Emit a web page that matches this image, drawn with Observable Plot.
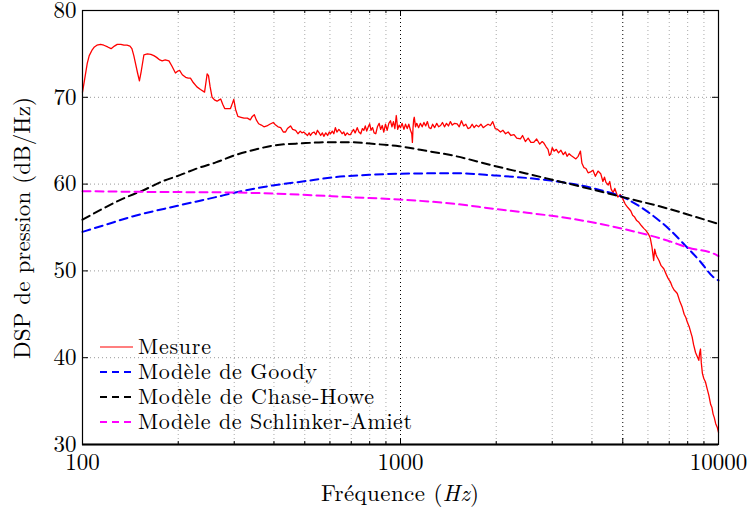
<!DOCTYPE html>
<html>
<head>
<meta charset="utf-8">
<script src="https://cdn.jsdelivr.net/npm/d3@7"></script>
<script src="https://cdn.jsdelivr.net/npm/@observablehq/plot@0.6"></script>
<style>
  html, body { margin: 0; padding: 0; background: #fff; }
  svg { display: block; }
</style>
</head>
<body>
<div id="chart"></div>
<script>
// ---- Data ----
const xTicks = [100, 1000, 5000, 10000];
const xMinor = [200, 300, 400, 500, 600, 700, 800, 900, 2000, 3000, 4000, 6000, 7000, 8000, 9000];
const xMajorGrid = [1000, 5000];
const yTicks = [30, 40, 50, 60, 70, 80];
const yGrid = [40, 50, 60, 70];

const seriesNames = ["Mesure", "Modèle de Goody", "Modèle de Chase-Howe", "Modèle de Schlinker-Amiet"];
const seriesColors = ["#ff0000", "#0000ff", "#000000", "#ff00ff"];

// Mesure: [frequency Hz, dB/Hz]
const mesure = [
[100,70.6],[102,72.5],[103.5,73.9],[105,74.8],[107,75.4],[109,75.8],[111,76.0],[114,76.1],[116.7,76.0],[120,75.8],
[123,75.6],[126,75.9],[128.6,76.1],[132,76.1],[135,76.0],[138,76.0],[141,75.9],[143,75.6],[145,74.8],[147,73.8],
[149,72.8],[151,71.9],[153,73.0],[156,74.9],[160,75.0],[164,74.95],[167.6,74.8],[171,74.6],[175,74.3],[178,74.2],
[182,74.3],[187,74.2],[191,73.6],[196,72.8],[199,73.0],[202,73.1],[206,72.6],[211,72.3],[215,72.2],[218.5,72.2],
[223,71.7],[229,71.2],[235,70.9],[242,70.6],[244,71.5],[246.6,72.7],[249,72.5],[252,71.2],[255.6,70.0],[260,69.7],
[265,69.55],[269,69.7],[272,69.8],[276,69.2],[280,68.7],[286,68.7],[292,68.7],[296,69.3],[299,69.75],[303,68.6],
[308,67.8],[315,67.7],[322,67.6],[330,67.6],[337,67.4],[342,67.8],[347,68.0],[352,67.4],[358,66.95],[365,66.8],
[372,66.6],[380,66.7],[388,66.9],[398,67.1],[405,66.8],[412,66.6],[420,66.5],[428,66.0],[435,66.0],[441,66.4],
[451,66.7],[458,66.3],[468,66.2],[476,65.8],[484,66.1],[490,65.9],[496,66.0],[503,65.8],[510,65.6],[516,65.9],
[521,65.6],[528,65.9],[535,66.0],[542,65.7],[548,66.2],[555,65.9],[561,65.6],[568,65.9],[574,65.5],[582,65.9],
[590,65.6],[597,66.0],[603,65.8],[610,66.1],[617,65.8],[624,66.5],[631,66.0],[640,66.3],[647,66.1],[655,65.8],
[663,66.0],[670,65.6],[680,65.9],[688,65.7],[696,65.7],[703,66.0],[712,66.3],[720,65.9],[731,66.5],[740,66.0],
[750,65.8],[759,66.4],[767,66.2],[775,66.7],[783,66.1],[792,66.6],[800,66.95],[808,66.2],[817,66.5],[826,65.9],
[836,65.8],[846,66.6],[857,67.0],[866,66.3],[876,66.75],[886,66.0],[897,66.9],[908,66.2],[919,67.0],[930,67.3],
[940,66.6],[950,67.2],[960,66.4],[970,67.9],[980,66.3],[990,66.8],[1000,66.5],[1012,67.0],[1025,66.3],[1037,66.9],
[1050,66.4],[1062,66.9],[1075,66.2],[1085,65.8],[1090,64.8],[1095,66.5],[1100,67.4],[1105,67.7],[1115,66.6],[1125,67.0],
[1140,66.5],[1155,67.0],[1170,66.6],[1185,67.1],[1200,66.7],[1215,67.2],[1230,66.5],[1247,66.4],[1262,66.9],[1280,66.5],
[1300,67.0],[1318,66.6],[1337,66.75],[1355,67.1],[1375,66.6],[1395,67.0],[1415,66.7],[1435,67.2],[1455,66.8],[1480,67.0],
[1507,66.95],[1530,66.6],[1555,67.3],[1580,66.7],[1605,66.9],[1630,66.4],[1656,66.5],[1680,66.9],[1705,66.5],[1730,66.8],
[1760,66.6],[1790,66.9],[1820,66.5],[1850,66.7],[1885,66.9],[1917,66.75],[1950,67.2],[1985,66.4],[2020,66.3],[2063,66.0],
[2100,66.2],[2140,65.8],[2180,66.0],[2225,65.6],[2275,65.7],[2320,65.3],[2383,65.2],[2420,65.6],[2470,64.9],[2520,65.3],
[2570,64.8],[2624,64.8],[2680,65.2],[2740,64.6],[2790,64.9],[2827,64.7],[2870,64.3],[2910,64.0],[2940,63.3],[2970,63.5],
[3000,64.2],[3040,63.8],[3090,64.0],[3140,63.6],[3195,63.9],[3250,63.4],[3300,63.7],[3340,63.2],[3390,63.5],[3438,63.3],
[3500,63.1],[3560,62.9],[3620,63.2],[3680,63.8],[3720,62.4],[3773,61.9],[3830,61.8],[3890,61.3],[3960,61.4],[4030,61.6],
[4100,60.9],[4180,61.5],[4262,61.2],[4330,60.3],[4380,60.8],[4427,60.2],[4500,59.9],[4550,60.3],[4594,59.45],[4660,59.0],
[4720,59.5],[4825,58.5],[4910,58.8],[5000,58.3],[5090,57.7],[5187,57.3],[5300,56.9],[5370,56.4],[5449,56.2],[5530,55.8],
[5620,55.6],[5726,55.2],[5820,54.9],[5900,54.7],[6010,54.3],[6100,53.8],[6180,52.7],[6254,51.2],[6300,52.5],[6360,51.9],
[6411,51.6],[6500,51.2],[6600,50.6],[6730,50.25],[6850,49.6],[6950,49.1],[7065,48.7],[7150,48.2],[7250,47.8],[7340,47.6],
[7420,47.4],[7540,46.6],[7690,45.8],[7800,45.0],[7900,44.6],[7976,44.1],[8100,43.5],[8200,42.8],[8262,42.4],[8350,41.5],
[8468,40.6],[8560,40.2],[8671,39.7],[8720,40.5],[8777,41.0],[8830,39.4],[8900,38.2],[8990,37.6],[9100,37.2],[9200,36.5],
[9326,35.65],[9450,34.6],[9530,34.3],[9617,33.5],[9700,33.1],[9800,32.4],[9908,32.0],[10000,31.4]
];

const goody = [
[100,54.5],[115.6,55.2],[143.6,56.27],[199,57.5],[262.6,58.5],[300,59.0],[396,59.84],[492,60.3],[624,60.8],[798,61.07],
[1000,61.2],[1500,61.25],[1970,61.0],[2970,60.4],[3500,60.0],[4260,59.3],[5000,58.5],[6100,56.6],[7000,54.8],[7780,53.1],
[8800,51.0],[9620,49.3],[10000,48.9]
];

const chaseHowe = [
[100,55.9],[115.6,57.15],[133.6,58.3],[154.4,59.25],[180.7,60.4],[201.5,61.0],[227,61.75],[262.6,62.5],[300,63.3],[350,63.99],
[400,64.45],[492,64.7],[598,64.83],[690,64.83],[815,64.64],[990,64.37],[1155,63.95],[1500,63.2],[1970,62.1],[2500,61.2],
[3000,60.5],[3600,59.8],[4200,59.2],[5000,58.5],[6900,57.2],[8000,56.5],[10000,55.4]
];

const schlinkerAmiet = [
[100,59.18],[162,59.1],[300,59.03],[492,58.77],[690,58.5],[990,58.23],[1500,57.7],[1970,57.15],[2500,56.7],[3195,56.2],
[4000,55.6],[5000,54.85],[6900,53.5],[8000,52.7],[9900,51.8],[10000,51.7]
];

// ---- Pick an installed serif font (fallback to generic serif) ----
function available(name) {
  const c = document.createElement("canvas").getContext("2d");
  const probe = "abcdefghijklmnopqrstuvwxyzMW0123456789";
  return ["monospace", "sans-serif"].every(base => {
    c.font = `40px ${base}`; const w0 = c.measureText(probe).width;
    c.font = `40px "${name}", ${base}`; const w1 = c.measureText(probe).width;
    return Math.abs(w0 - w1) > 0.5;
  });
}
const serifCandidates = ["Latin Modern Roman", "CMU Serif", "Liberation Serif", "DejaVu Serif", "Times New Roman", "Tinos", "Noto Serif", "FreeSerif", "Nimbus Roman", "Times"];
const found = serifCandidates.find(available);
const font = found ? `"${found}", serif` : "serif";

// ---- Chart ----
const W = 749, H = 518, mL = 82, mR = 31, mT = 10, mB = 74;
const pw = W - mL - mR, ph = H - mT - mB;

const dashed = (data, color) => Plot.line(data, {
  x: d => d[0], y: d => d[1], stroke: color, strokeWidth: 2,
  strokeDasharray: "8,5", curve: "monotone-x"
});

const svg = Plot.plot({
  width: W, height: H,
  marginLeft: mL, marginRight: mR, marginTop: mT, marginBottom: mB,
  style: { fontFamily: font, fontSize: "23px", background: "#fff", color: "#000", overflow: "visible" },
  x: { type: "log", domain: [100, 10000] },
  y: { domain: [30, 80] },
  marks: [
    Plot.ruleX(xMinor, { stroke: "#aaa", strokeWidth: 1, strokeDasharray: "1,3" }),
    Plot.ruleX(xMajorGrid, { stroke: "#000", strokeWidth: 1, strokeDasharray: "1,3" }),
    Plot.ruleY(yGrid, { stroke: "#999", strokeWidth: 1, strokeDasharray: "1,3" }),
    Plot.line(mesure, { x: d => d[0], y: d => d[1], stroke: seriesColors[0], strokeWidth: 1.3 }),
    dashed(goody, seriesColors[1]),
    dashed(chaseHowe, seriesColors[2]),
    dashed(schlinkerAmiet, seriesColors[3]),
    // inner tick marks
    Plot.ruleX(xTicks, { stroke: "#000", insetTop: ph - 6 }),
    Plot.ruleX(xTicks, { stroke: "#000", insetBottom: ph - 6 }),
    Plot.ruleX(xMinor, { stroke: "#000", insetTop: ph - 3 }),
    Plot.ruleX(xMinor, { stroke: "#000", insetBottom: ph - 3 }),
    Plot.ruleY(yTicks, { stroke: "#000", insetRight: pw - 6 }),
    Plot.ruleY(yTicks, { stroke: "#000", insetLeft: pw - 6 }),
    Plot.frame({ stroke: "#000", strokeWidth: 1.2 }),
    Plot.ruleY([30], { stroke: "#000", strokeWidth: 2 }),
    Plot.axisX(xTicks, { tickSize: 0, tickPadding: 9, tickFormat: d => String(d), label: null, fontSize: 23 }),
    Plot.axisY(yTicks, { tickSize: 0, tickPadding: 6, tickFormat: d => String(d), label: null, fontSize: 23 })
  ]
});

document.getElementById("chart").appendChild(svg);

const s = d3.select(svg);
// X axis label with italic Hz
const xl = s.append("text")
  .attr("x", mL + pw / 2).attr("y", 501)
  .attr("text-anchor", "middle")
  .attr("textLength", 158).attr("lengthAdjust", "spacing")
  .style("font-family", font).style("font-size", "23px").attr("fill", "#000");
xl.append("tspan").text("Fréquence (");
xl.append("tspan").attr("font-style", "italic").text("Hz");
xl.append("tspan").text(")");

// Y axis label
s.append("text")
  .attr("transform", `translate(30,${mT + ph / 2 + 1}) rotate(-90)`)
  .attr("text-anchor", "middle")
  .attr("textLength", 262).attr("lengthAdjust", "spacing")
  .style("font-family", font).style("font-size", "23px").attr("fill", "#000")
  .text("DSP de pression (dB/Hz)");

// Legend (inside plot, bottom-left, no box)
const legendWidths = [73, 179, 236, 274];
const lg = s.append("g");
seriesNames.forEach((name, i) => {
  const cy = 347 + i * 25;
  lg.append("line")
    .attr("x1", 100).attr("x2", 133).attr("y1", cy).attr("y2", cy)
    .attr("stroke", seriesColors[i])
    .attr("stroke-width", i === 0 ? 1.1 : 2)
    .attr("stroke-dasharray", i === 0 ? null : "7,5");
  lg.append("text")
    .attr("x", 138).attr("y", cy + 7)
    .attr("text-anchor", "start")
    .attr("textLength", legendWidths[i]).attr("lengthAdjust", "spacing")
    .style("font-family", font).style("font-size", "22px").attr("fill", "#000")
    .text(name);
});
</script>
</body>
</html>
